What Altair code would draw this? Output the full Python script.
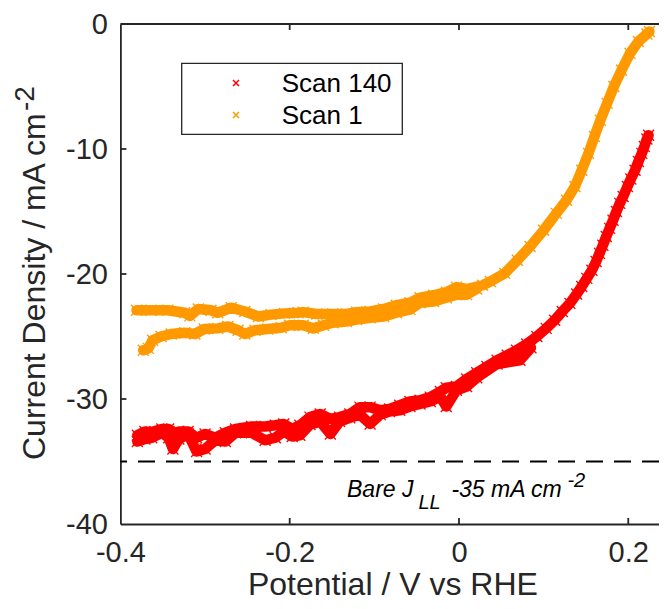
import altair as alt
import pandas as pd

FONT = "Liberation Sans"
INK = "#262626"

series_names = ["Scan 140", "Scan 1"]
series_colors = ["#FF0000", "#FF9900"]

x_ticks = [-0.4, -0.2, 0.0, 0.2]
y_ticks = [-40, -30, -20, -10, 0]
x_domain = [-0.4, 0.2363]
y_domain = [-40, 0]
bare_jll = [-35]

# Scan 140 - sweep A (upper edge of band, full curve)
s140_a_v = [-0.380, -0.371, -0.363, -0.351, -0.343, -0.338, -0.331, -0.320, -0.310, -0.300,
            -0.288, -0.276, -0.264, -0.245, -0.229, -0.217, -0.207, -0.197, -0.188, -0.176,
            -0.164, -0.152, -0.141, -0.129, -0.117, -0.105, -0.093, -0.082, -0.070, -0.058,
            -0.046, -0.034, -0.022, -0.015, -0.003, 0.009, 0.021, 0.033, 0.045, 0.057,
            0.068, 0.080, 0.092, 0.103, 0.113, 0.122, 0.131, 0.139, 0.145, 0.151,
            0.157, 0.162, 0.166, 0.170, 0.174, 0.178, 0.182, 0.186, 0.190, 0.194,
            0.199, 0.203, 0.208, 0.212, 0.216, 0.219, 0.222, 0.224]
s140_a_j = [-32.9, -32.6, -32.65, -32.4, -32.4, -32.8, -32.6, -32.6, -33.1, -32.8,
            -33.1, -32.7, -32.4, -32.2, -32.2, -32.1, -32.0, -32.4, -32.1, -31.45,
            -31.2, -31.6, -31.45, -31.2, -30.65, -30.65, -30.9, -30.8, -30.5, -30.2,
            -30.1, -29.85, -29.4, -29.1, -29.0, -28.4, -27.9, -27.4, -26.9, -26.5,
            -26.1, -25.6, -25.0, -24.35, -23.7, -23.0, -22.35, -21.6, -21.0, -20.35,
            -19.7, -19.0, -18.35, -17.7, -17.0, -16.35, -15.7, -15.0, -14.35, -13.8,
            -13.0, -12.4, -11.7, -11.0, -10.35, -9.8, -9.2, -8.9]

# Scan 140 - sweep B (lower edge of band, joins sweep A on the rise)
s140_b_v = [-0.380, -0.371, -0.363, -0.351, -0.343, -0.338, -0.331, -0.320, -0.310, -0.300,
            -0.288, -0.276, -0.264, -0.245, -0.229, -0.217, -0.207, -0.197, -0.188, -0.176,
            -0.164, -0.152, -0.141, -0.129, -0.117, -0.105, -0.093, -0.082, -0.070, -0.058,
            -0.046, -0.034, -0.022, -0.015, -0.003, 0.009, 0.021, 0.045, 0.072, 0.085]
s140_b_j = [-33.4, -33.2, -33.1, -32.7, -33.1, -34.0, -33.2, -32.8, -34.2, -34.0,
            -33.3, -33.4, -32.7, -32.7, -33.3, -33.1, -32.6, -33.0, -32.9, -32.05,
            -31.8, -32.8, -31.8, -31.5, -31.25, -32.0, -31.25, -31.0, -30.9, -30.6,
            -30.4, -30.2, -29.8, -30.6, -29.3, -29.0, -28.3, -27.2, -26.9, -25.9]

# Scan 1 - upper branch (full curve)
s1_a_v = [-0.381, -0.364, -0.344, -0.324, -0.318, -0.308, -0.293, -0.285, -0.269, -0.253,
          -0.237, -0.222, -0.206, -0.190, -0.184, -0.168, -0.149, -0.133, -0.121, -0.105,
          -0.089, -0.074, -0.058, -0.046, -0.030, -0.015, -0.003, 0.009, 0.028, 0.037,
          0.054, 0.069, 0.084, 0.100, 0.115, 0.127, 0.137, 0.145, 0.153, 0.160,
          0.167, 0.175, 0.183, 0.192, 0.202, 0.212, 0.222, 0.225]
s1_a_j = [-22.9, -22.9, -22.9, -23.1, -23.35, -22.8, -22.9, -23.1, -22.7, -23.0,
          -23.4, -23.25, -23.15, -23.1, -23.05, -23.2, -23.2, -23.2, -23.05, -23.0,
          -22.8, -22.5, -22.3, -21.9, -21.7, -21.45, -21.05, -21.2, -20.9, -20.6,
          -19.95, -18.9, -17.8, -16.5, -15.15, -14.1, -13.0, -11.7, -10.35, -9.0,
          -7.7, -6.35, -5.0, -3.7, -2.35, -1.4, -0.8, -0.6]

# Scan 1 - lower branch (hysteresis, joins the upper one near 0 V)
s1_b_v = [-0.373, -0.367, -0.362, -0.352, -0.340, -0.324, -0.312, -0.301, -0.285, -0.273,
          -0.261, -0.253, -0.241, -0.226, -0.210, -0.200, -0.184, -0.172, -0.160, -0.149,
          -0.133, -0.121, -0.105, -0.089, -0.074, -0.058, -0.046, -0.030, -0.015, -0.003,
          0.009, 0.021]
s1_b_j = [-26.1, -25.95, -25.3, -25.0, -24.8, -24.7, -24.8, -24.4, -24.35, -24.2,
          -24.5, -24.8, -24.5, -24.4, -24.3, -24.1, -24.1, -24.35, -24.1, -23.9,
          -23.8, -23.65, -23.5, -23.4, -23.1, -22.85, -22.3, -22.2, -21.9, -21.65,
          -21.65, -21.2]

rows = []
for name, branch, vs, js in [
    (series_names[0], "a", s140_a_v, s140_a_j),
    (series_names[0], "b", s140_b_v, s140_b_j),
    (series_names[1], "a", s1_a_v, s1_a_j),
    (series_names[1], "b", s1_b_v, s1_b_j),
]:
    for i, (v, j) in enumerate(zip(vs, js)):
        rows.append({"scan": name, "branch": name + branch, "idx": i, "v": v, "j": j})
df = pd.DataFrame(rows)

W = 538.6
H = 500.0
XMARK = "M-1,-1L1,1M1,-1L-1,1"

xs = alt.Scale(domain=x_domain, nice=False, zero=False)
ys = alt.Scale(domain=y_domain, nice=False, zero=False)
x_axis = alt.Axis(
    values=x_ticks, title="Potential / V vs RHE", grid=False, ticks=False, tickSize=0,
    labelExpr="datum.value == 0 ? '0' : (datum.value < 0 ? '-' + format(-datum.value, '.1f') : format(datum.value, '.1f'))",
    labelFlush=False, labelOverlap=False,
    labelPadding=14, labelFontSize=29, labelFont=FONT, labelColor=INK,
    titleFont=FONT, titleFontSize=32, titleFontWeight="normal", titleColor=INK,
    titleBaseline="alphabetic", titleY=70.5, titleX=272,
    domainColor=INK, domainWidth=1.8,
)
y_axis = alt.Axis(
    values=y_ticks, title=None, grid=False, ticks=False, tickSize=0,
    labelExpr="datum.value < 0 ? '-' + format(-datum.value, 'd') : format(datum.value, 'd')",
    labelFlush=False, labelOverlap=False,
    labelPadding=13, labelFontSize=29, labelFont=FONT, labelColor=INK,
    domainColor=INK, domainWidth=1.8,
)
color = alt.Color("scan:N", scale=alt.Scale(domain=series_names, range=series_colors), legend=None)

base = alt.Chart(df).encode(
    x=alt.X("v:Q", scale=xs, axis=x_axis),
    y=alt.Y("j:Q", scale=ys, axis=y_axis),
    color=color,
    detail="branch:N",
    order="idx:Q",
)
lines = base.mark_line(strokeWidth=10.5, strokeJoin="round", strokeCap="round")
points = base.mark_point(shape=XMARK, size=121, strokeWidth=1.3, filled=False, opacity=1)

dash = alt.Chart(pd.DataFrame({"j": bare_jll})).mark_rule(
    color="#000000", strokeWidth=1.8, strokeDash=[17, 11]
).encode(y=alt.Y("j:Q", scale=ys, axis=y_axis))

one = pd.DataFrame({"k": [0]})
top_spine = alt.Chart(one).mark_rule(color=INK, strokeWidth=1.8).encode(
    x=alt.value(0), x2=alt.value(W), y=alt.value(0)
)

xt = pd.DataFrame({"v": x_ticks[1:]})
yt = pd.DataFrame({"j": y_ticks[1:-1]})
tick_style = dict(color=INK, strokeWidth=1.8)
bottom_ticks = alt.Chart(xt).mark_rule(**tick_style).encode(
    x=alt.X("v:Q", scale=xs, axis=x_axis), y=alt.value(H), y2=alt.value(H - 6))
top_ticks = alt.Chart(xt).mark_rule(**tick_style).encode(
    x=alt.X("v:Q", scale=xs, axis=x_axis), y=alt.value(0), y2=alt.value(6))
left_ticks = alt.Chart(yt).mark_rule(**tick_style).encode(
    y=alt.Y("j:Q", scale=ys, axis=y_axis), x=alt.value(0), x2=alt.value(6))

# y-axis title with superscript
ytitle = alt.Chart(pd.DataFrame({"t": ["Current Density / mA cm"]})).mark_text(
    angle=270, align="left", baseline="alphabetic", font=FONT, fontSize=32, color=INK
).encode(x=alt.value(-75.4), y=alt.value(436), text="t:N")
ytitle_sup = alt.Chart(pd.DataFrame({"t": ["-2"]})).mark_text(
    angle=270, align="left", baseline="alphabetic", font=FONT, fontSize=28, color=INK
).encode(x=alt.value(-86), y=alt.value(87), text="t:N")

# annotation: Bare J_LL -35 mA cm^-2
ann_style = dict(align="left", baseline="alphabetic", font=FONT, fontStyle="italic", color="#000000")
ann1 = alt.Chart(pd.DataFrame({"t": ["Bare J"]})).mark_text(fontSize=23, **ann_style).encode(
    x=alt.value(226.6), y=alt.value(472.8), text="t:N")
ann2 = alt.Chart(pd.DataFrame({"t": ["LL"]})).mark_text(fontSize=20, **ann_style).encode(
    x=alt.value(298.0), y=alt.value(484.7), text="t:N")
ann3 = alt.Chart(pd.DataFrame({"t": ["-35 mA cm"]})).mark_text(fontSize=23, **ann_style).encode(
    x=alt.value(331.0), y=alt.value(472.8), text="t:N")
ann4 = alt.Chart(pd.DataFrame({"t": ["-2"]})).mark_text(fontSize=20, **ann_style).encode(
    x=alt.value(447.0), y=alt.value(463.0), text="t:N")

# legend box
leg_box = alt.Chart(one).mark_rect(fill="white", stroke=INK, strokeWidth=1.3).encode(
    x=alt.value(61.3), x2=alt.value(281.9), y=alt.value(39.3), y2=alt.value(110.3))
leg_layers = []
for i, (name, col) in enumerate(zip(series_names, series_colors)):
    ld = pd.DataFrame({"t": [name]})
    yc = 59 + 32 * i
    leg_layers.append(alt.Chart(ld).mark_point(
        shape=XMARK, size=36, strokeWidth=1.5, filled=False, opacity=1, color=col
    ).encode(x=alt.value(115.6), y=alt.value(yc)))
    leg_layers.append(alt.Chart(ld).mark_text(
        align="left", baseline="alphabetic", font=FONT, fontSize=26, color="#000000"
    ).encode(x=alt.value(161.3), y=alt.value(yc + 8.7), text="t:N"))

chart = alt.layer(
    dash, lines, points, top_spine, bottom_ticks, top_ticks, left_ticks,
    ytitle, ytitle_sup, ann1, ann2, ann3, ann4, leg_box, *leg_layers
).properties(
    width=W, height=H,
    padding={"left": 112.4, "top": 16, "right": 0, "bottom": 77},
    autosize=alt.AutoSizeParams(type="none"),
    background="white",
).configure_view(stroke=None)

chart.save("out.html", embed_options={"renderer": "svg", "actions": False})
